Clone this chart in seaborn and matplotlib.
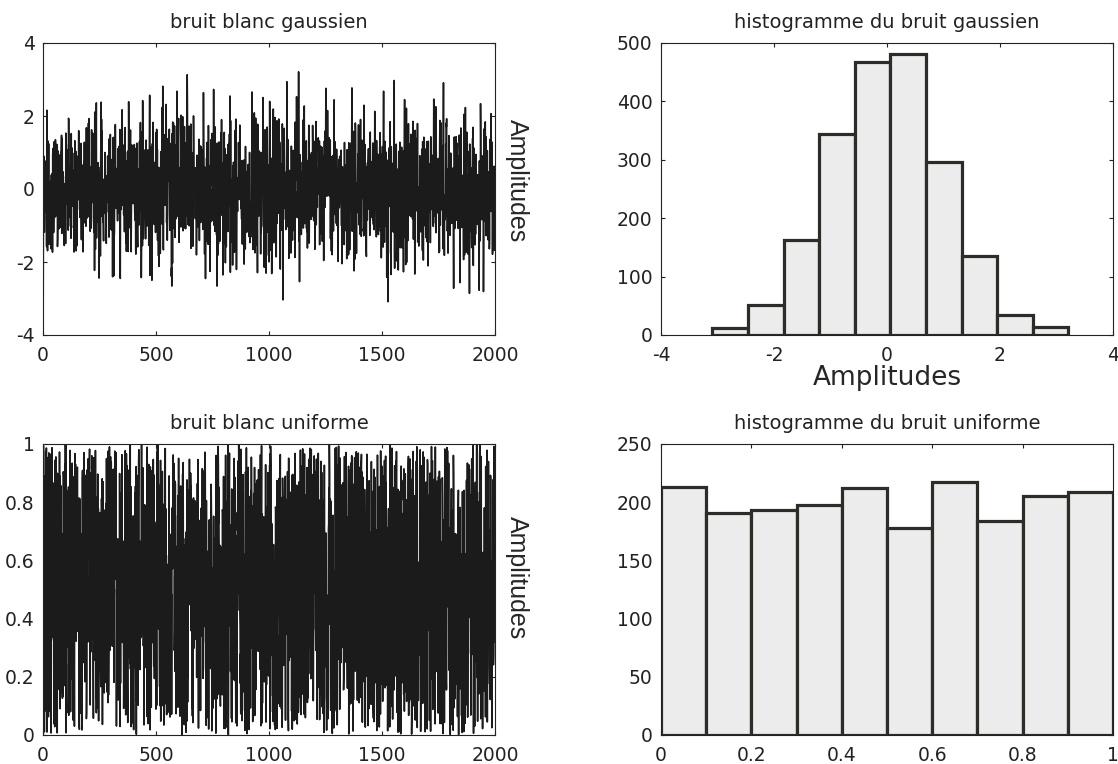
import numpy as np
import matplotlib
matplotlib.use("Agg")
import matplotlib.pyplot as plt
import seaborn as sns

N_SAMPLES = 2000

# Gaussian white noise: 10-bin histogram between the smallest and largest amplitude
gauss_edges = [-3.09, -2.46, -1.83, -1.20, -0.57, 0.06, 0.69, 1.32, 1.95, 2.58, 3.21]
gauss_counts = [12, 52, 162, 345, 468, 482, 296, 135, 35, 13]
# Largest excursions of the Gaussian trace (sample index, amplitude)
gauss_peak_idx = [16, 378, 527, 592, 709, 754, 827, 1078, 1130, 1251, 1366, 1506, 1599, 1771,
                  341, 481, 569, 769, 1061, 1134, 1525, 1816, 1886, 1948]
gauss_peak_val = [2.16, 2.39, 2.24, 2.68, 2.64, 2.73, 2.53, 2.94, 3.21, 2.76, 2.77, 2.68, 2.45, 2.91,
                  -2.45, -2.50, -2.66, -2.66, -3.04, -2.54, -3.09, -2.72, -2.86, -2.81]

# Uniform white noise on [0, 1]: 10-bin histogram
unif_edges = [0.0, 0.1, 0.2, 0.3, 0.4, 0.5, 0.6, 0.7, 0.8, 0.9, 1.0]
unif_counts = [213, 191, 193, 198, 212, 178, 217, 184, 205, 209]

time_ticks = [0, 500, 1000, 1500, 2000]
gauss_amp_ticks = [-4, -2, 0, 2, 4]
unif_amp_ticks = [0, 0.2, 0.4, 0.6, 0.8, 1]
gauss_hist_xticks = [-4, -2, 0, 2, 4]
gauss_hist_yticks = [0, 100, 200, 300, 400, 500]
unif_hist_xticks = [0, 0.2, 0.4, 0.6, 0.8, 1]
unif_hist_yticks = [0, 50, 100, 150, 200, 250]
unit_tick_labels = ["0", "0.2", "0.4", "0.6", "0.8", "1"]

titles = ["bruit blanc gaussien", "histogramme du bruit gaussien",
          "bruit blanc uniforme", "histogramme du bruit uniforme"]


def build_trace(edges, counts, peak_idx, peak_val, mix):
    """Samples whose histogram is exactly `counts`; listed peaks sit at their
    indices, the other binned amplitudes follow a fixed interleaved order."""
    edges = np.asarray(edges, float)
    remaining = np.array(counts, int)
    trace = np.full(N_SAMPLES, np.nan)
    for i, v in zip(peak_idx, peak_val):
        trace[i] = v
        k = min(np.searchsorted(edges, v, side="right") - 1, len(counts) - 1)
        remaining[k] -= 1
    pool = np.concatenate([
        edges[k] + (np.arange(n) + 0.5) / n * (edges[k + 1] - edges[k])
        for k, n in enumerate(remaining)
    ])
    free = np.flatnonzero(np.isnan(trace)).astype(float)
    key = (mix[0] * free ** 3 + mix[1] * free ** 2 + mix[2] * free) % 1.0
    trace[free[np.argsort(key)].astype(int)] = pool
    return trace


gauss = build_trace(gauss_edges, gauss_counts, gauss_peak_idx, gauss_peak_val,
                    (0.3819660113, 0.7320508076, 0.4142135624))
unif = build_trace(unif_edges, unif_counts, [], [],
                   (0.2360679775, 0.5857864376, 0.1715728753))
samples = np.arange(1, N_SAMPLES + 1)

sns.set_theme(style="ticks")
plt.rcParams.update({
    "font.family": ["DejaVu Sans"],
    "axes.unicode_minus": False,
    "axes.linewidth": 0.8,
    "axes.edgecolor": "#222222",
    "xtick.direction": "in",
    "ytick.direction": "in",
    "xtick.top": True,
    "ytick.right": True,
    "xtick.major.size": 3,
    "ytick.major.size": 3,
    "xtick.major.width": 0.8,
    "ytick.major.width": 0.8,
    "xtick.major.pad": 8,
    "ytick.major.pad": 6,
    "xtick.labelsize": 13.5,
    "ytick.labelsize": 13.5,
    "xtick.color": "#222222",
    "ytick.color": "#222222",
    "text.color": "#222222",
})

fig = plt.figure(figsize=(11.18, 7.64), dpi=100)
W, H = 1118, 764


def add_axes(left, top, right, bottom):
    return fig.add_axes([left / W, 1 - bottom / H, (right - left) / W, (bottom - top) / H])


ax_g = add_axes(43, 43, 495, 335)
ax_gh = add_axes(661, 43, 1113, 335)
ax_u = add_axes(43, 444, 495, 735)
ax_uh = add_axes(661, 444, 1113, 735)

line_kw = dict(color="#1b1b1b", linewidth=1.15, estimator=None, errorbar=None)
sns.lineplot(x=samples, y=gauss, ax=ax_g, **line_kw)
sns.lineplot(x=samples, y=unif, ax=ax_u, **line_kw)

bar_kw = dict(stat="count", color="#ececec", edgecolor="#2c2c28", linewidth=2.3, alpha=1)
sns.histplot(x=gauss, bins=gauss_edges, ax=ax_gh, **bar_kw)
sns.histplot(x=unif, bins=unif_edges, ax=ax_uh, **bar_kw)

ax_g.set(xlim=(0, 2000), ylim=(-4, 4), xticks=time_ticks, yticks=gauss_amp_ticks)
ax_u.set(xlim=(0, 2000), ylim=(0, 1), xticks=time_ticks, yticks=unif_amp_ticks)
ax_gh.set(xlim=(-4, 4), ylim=(0, 500), xticks=gauss_hist_xticks, yticks=gauss_hist_yticks)
ax_uh.set(xlim=(0, 1), ylim=(0, 250), xticks=unif_hist_xticks, yticks=unif_hist_yticks)
ax_u.set_yticklabels(unit_tick_labels)
ax_uh.set_xticklabels(unit_tick_labels)

for ax, title in zip([ax_g, ax_gh, ax_u, ax_uh], titles):
    ax.set_title(title, fontsize=14, pad=10.5)
    ax.set_xlabel("")
    ax.set_ylabel("")
    for side in ["top", "right", "bottom", "left"]:
        ax.spines[side].set_visible(True)

for ax, ypos in [(ax_g, 0.53), (ax_u, 0.54)]:
    ax.set_ylabel("Amplitudes", fontsize=18, family=["Liberation Sans"], rotation=270)
    ax.yaxis.set_label_position("right")
    ax.yaxis.set_label_coords(1.022, ypos)
    ax.yaxis.label.set_va("bottom")
    ax.yaxis.label.set_ha("center")
    ax.tick_params(axis="y", labelright=False, labelleft=True)

ax_gh.set_xlabel("Amplitudes", fontsize=19, labelpad=0)

fig.savefig("out.png", dpi=100, facecolor="white")
